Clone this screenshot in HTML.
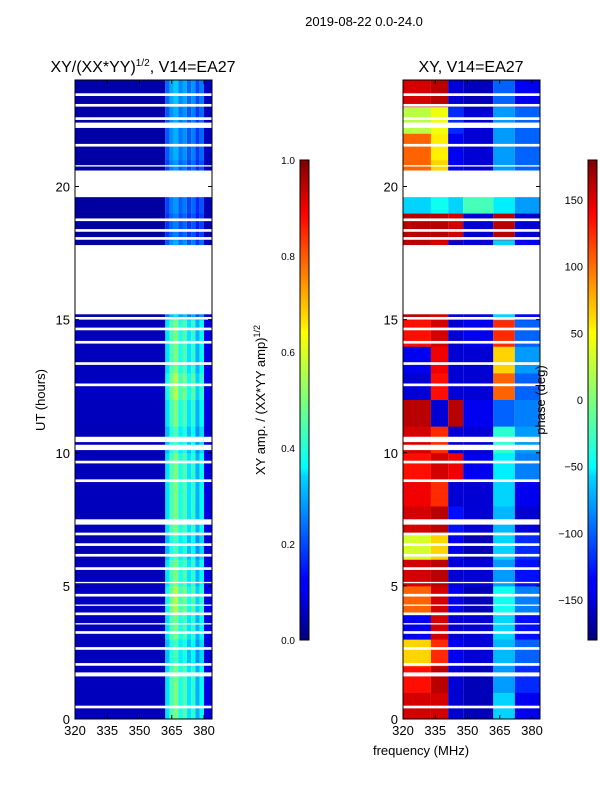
<!DOCTYPE html>
<html><head><meta charset="utf-8"><style>
body{margin:0;background:#fff;width:600px;height:800px;overflow:hidden;font-family:"Liberation Sans",sans-serif}
svg text{font-family:"Liberation Sans",sans-serif}
</style></head><body>
<svg id="fig" width="600" height="800" xmlns="http://www.w3.org/2000/svg">
<defs>
<linearGradient id="jet" x1="0" y1="1" x2="0" y2="0">
<stop offset="0" stop-color="#00007f"/><stop offset="0.11" stop-color="#0000ff"/><stop offset="0.125" stop-color="#0000ff"/>
<stop offset="0.34" stop-color="#00d4ff"/><stop offset="0.36" stop-color="#0ff"/><stop offset="0.5" stop-color="#7dff7a"/>
<stop offset="0.64" stop-color="#ff0"/><stop offset="0.66" stop-color="#ffe600"/><stop offset="0.89" stop-color="#ff0000"/><stop offset="1" stop-color="#7f0000"/>
</linearGradient>
</defs>
<text x="364" y="26" font-size="13" text-anchor="middle">2019-08-22 0.0-24.0</text>
<text x="143" y="72" font-size="16" text-anchor="middle">XY/(XX*YY)<tspan font-size="10" dy="-6">1/2</tspan><tspan dy="6">, V14=EA27</tspan></text>
<text x="471" y="72" font-size="16" text-anchor="middle">XY, V14=EA27</text>
<g id="left"></g>
<g id="right"></g>
<g id="axes"></g>
<text transform="translate(45,400) rotate(-90)" font-size="13" text-anchor="middle">UT (hours)</text>
<text transform="translate(265,400) rotate(-90)" font-size="13" text-anchor="middle">XY amp. / (XX*YY amp)<tspan font-size="9" dy="-5">1/2</tspan></text>
<text transform="translate(545,400) rotate(-90)" font-size="13" text-anchor="middle">phase (deg)</text>
<text x="421" y="755" font-size="13" text-anchor="middle">frequency (MHz)</text>
<rect x="300" y="160" width="9" height="480" fill="url(#jet)" stroke="#000" stroke-width="1"/>
<rect x="588" y="160" width="9" height="480" fill="url(#jet)" stroke="#000" stroke-width="1"/>
</svg>
<script>
// data
const freqBands=[320,333,341,348,362,372,384];
const gaps=[[0.4,0.5],[1.6,1.75],[2.0,2.1],[2.6,2.7],[3.2,3.3],[3.55,3.6],[3.9,4.0],[4.25,4.3],[4.6,4.7],[5.1,5.15],[5.6,5.7],[6.1,6.2],[6.5,6.6],[6.9,7.0],[7.3,7.5],[8.9,9.0],[9.6,9.7],[10.1,10.3],[10.4,10.6],[12.5,12.6],[13.3,13.4],[14.1,14.2],[14.6,14.7],[15.0,15.1],[15.2,17.8],[18.0,18.1],[18.3,18.4],[18.7,18.8],[19.6,20.6],[20.75,20.8],[21.5,21.6],[22.2,22.4],[22.5,22.6],[23.0,23.1],[23.4,23.5]];
const ampFreq=[320,362,364,366,368,370,372,374,376,378,380,384];
const ampCol=[0.06,0.35,0.45,0.5,0.4,0.45,0.35,0.42,0.3,0.38,0.1];
const ampRow=[1.0,1.0,0.9,1.0,1.1,1.0,0.9,1.0,1.0,1.0,0.9,1.0,1.1,1.0,1.0,0.7,0.6,0.6,0.5,0.55,0.55,0.6,0.6,0.65];
const phase=[
[150,150,-150,-160,-60,-140],[130,160,-150,-160,-80,-120],[60,120,-140,-150,-70,-100],[-140,150,-150,-150,-60,-130],
[100,150,-140,-160,-40,-90],[150,160,-150,-150,-80,-130],[30,60,-140,-160,-60,-120],[150,160,-130,-150,-70,-150],
[140,120,-150,-150,-60,-140],[130,150,140,-140,-50,-90],[150,120,-150,-150,-30,-80],[160,-150,160,-140,-100,-90],
[-150,130,-150,-150,100,-100],[-140,140,-150,-150,60,-80],[130,150,-150,-140,120,-100],[160,150,-150,-150,-60,-140],
[160,150,-150,-150,-60,-140],[160,150,-150,-150,-60,-140],[160,160,150,-150,160,-150],[-60,-40,-60,-20,-50,-80],
[100,60,-140,-150,-80,-100],[100,50,-140,-150,-80,-100],[20,40,-120,-150,-80,-100],[150,160,-150,-160,-100,-140]];
const xTicks=[320,335,350,365,380];
const yTicks=[0,5,10,15,20];
const ampTicks=[0,0.2,0.4,0.6,0.8,1.0];
const phTicks=[-150,-100,-50,0,50,100,150];

const NS="http://www.w3.org/2000/svg";
const X0=[75,403],W=137,YT=80,YB=719;
const sx=(f,i)=>X0[i]+(f-320)*2.15;
const sy=h=>YB-h*(YB-YT)/24;
function jet(v){v=Math.max(0,Math.min(1,v));
 const r=Math.max(0,Math.min(1,1.5-Math.abs(4*v-3))),g=Math.max(0,Math.min(1,1.5-Math.abs(4*v-2))),b=Math.max(0,Math.min(1,1.5-Math.abs(4*v-1)));
 return `rgb(${r*255|0},${g*255|0},${b*255|0})`;}
function mk(tag,at,parent){const e=document.createElementNS(NS,tag);for(const k in at)e.setAttribute(k,at[k]);parent.appendChild(e);return e;}
const L=document.getElementById('left'),R=document.getElementById('right'),A=document.getElementById('axes');
for(let h=0;h<24;h++){
 for(let c=0;c<ampCol.length;c++){
  const x1=sx(ampFreq[c],0),x2=Math.min(sx(ampFreq[c+1],0),X0[0]+W);
  const r=mk('rect',{x:x1,y:sy(h+1),width:x2-x1,height:sy(h)-sy(h+1)+0.5,fill:jet(ampCol[c]*ampRow[h])},L);
  
  
 }
 for(let c=0;c<6;c++){
  const x1=sx(freqBands[c],1),x2=Math.min(sx(freqBands[c+1],1),X0[1]+W);
  const r=mk('rect',{x:x1,y:sy(h+1),width:x2-x1,height:sy(h)-sy(h+1)+0.5,fill:jet((phase[h][c]+180)/360)},R);
  
  
 }
}
for(let i=0;i<2;i++){
 for(const g of gaps){const r=mk('rect',{x:X0[i],y:sy(g[1]),width:W,height:sy(g[0])-sy(g[1]),fill:'#fff'},A);
  
  }
 const f=mk('rect',{x:X0[i],y:YT,width:W,height:YB-YT,fill:'none',stroke:'#000','stroke-width':1},A);
 
 
 for(const t of xTicks){const x=sx(t,i);
  mk('line',{x1:x,x2:x,y1:YB,y2:YB-4,stroke:'#000'},A);mk('line',{x1:x,x2:x,y1:YT,y2:YT+4,stroke:'#000'},A);
  const tx=mk('text',{x:x,y:YB+16,'font-size':13,'text-anchor':'middle'},A);tx.textContent=t;
  
  }
 for(const t of yTicks){const y=sy(t);
  mk('line',{x1:X0[i],x2:X0[i]+4,y1:y,y2:y,stroke:'#000'},A);mk('line',{x1:X0[i]+W,x2:X0[i]+W-4,y1:y,y2:y,stroke:'#000'},A);
  const tx=mk('text',{x:X0[i]-5,y:y+5,'font-size':13,'text-anchor':'end'},A);tx.textContent=t;
  
  }
}
for(const t of ampTicks){const y=640-t*480;
 mk('line',{x1:300,x2:303,y1:y,y2:y,stroke:'#000'},A);mk('line',{x1:309,x2:306,y1:y,y2:y,stroke:'#000'},A);
 const tx=mk('text',{x:295,y:y+4,'font-size':10,'text-anchor':'end'},A);tx.textContent=t.toFixed(1);
 
 }
for(const t of phTicks){const y=640-(t+180)/360*480;
 mk('line',{x1:588,x2:591,y1:y,y2:y,stroke:'#000'},A);mk('line',{x1:597,x2:594,y1:y,y2:y,stroke:'#000'},A);
 const tx=mk('text',{x:583,y:y+4,'font-size':11,'text-anchor':'end'},A);tx.textContent=t<0?'\u2212'+(-t):t;
 
 }
</script>
</body></html>
